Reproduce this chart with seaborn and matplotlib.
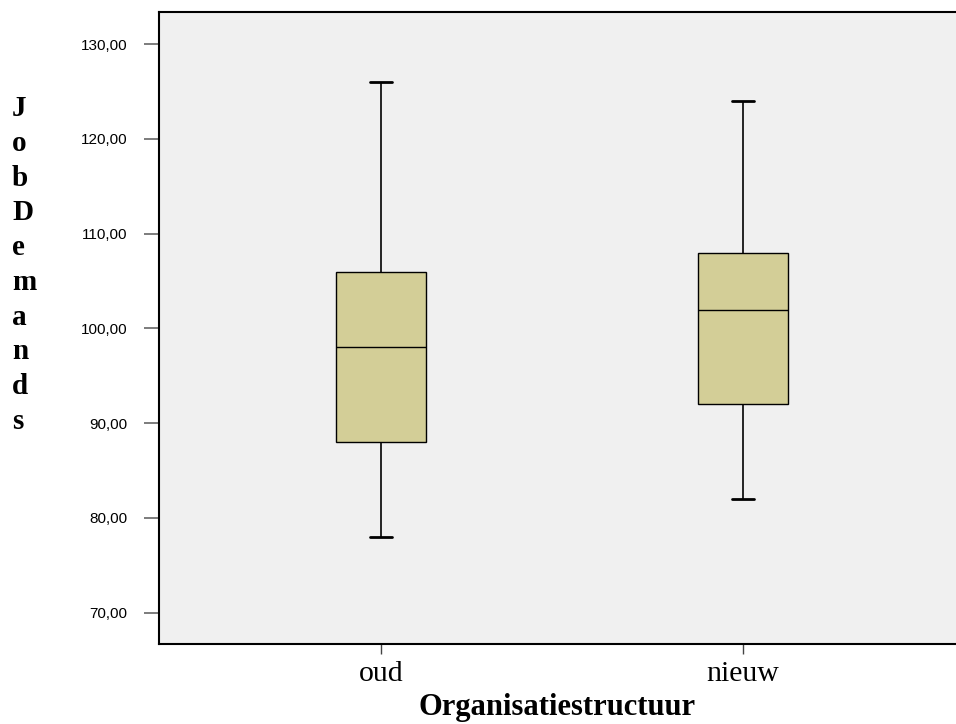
#!/usr/bin/env python3
import pandas as pd
import matplotlib
matplotlib.use("Agg")
import matplotlib.pyplot as plt
import seaborn as sns
import numpy as np

# five-number summaries (min, Q1, median, Q3, max)
groups = ["oud", "nieuw"]
oud_values = [78, 88, 98, 106, 126]
nieuw_values = [82, 92, 102, 108, 124]
y_ticks = [70, 80, 90, 100, 110, 120, 130]

df = pd.DataFrame({
    "Organisatiestructuur": ["oud"] * len(oud_values) + ["nieuw"] * len(nieuw_values),
    "JobDemands": oud_values + nieuw_values,
})

sns.set_style("white")
plt.rcParams["font.family"] = ["Liberation Sans", "DejaVu Sans"]
plt.rcParams["text.color"] = "black"
plt.rcParams["xtick.color"] = "black"
plt.rcParams["ytick.color"] = "black"

fig = plt.figure(figsize=(9.56, 7.24), dpi=100)
ax = fig.add_axes([159 / 956, 80 / 724, (956 - 159) / 956, 632 / 724])
ax.set_facecolor("#F0F0F0")

sns.boxplot(
    data=df, x="Organisatiestructuur", y="JobDemands", order=groups,
    whis=(0, 100), width=0.25, color="#D3CE97", linecolor="black",
    linewidth=1.0, saturation=1, ax=ax,
    whiskerprops={"linewidth": 1.2}, capprops={"linewidth": 2.0},
    capwidths=0.062,
)

ax.set_ylim(66.7, 133.4)
ax.set_xlim(-0.613, 1.588)
ax.set_yticks(y_ticks)
ax.set_yticklabels([f"{v:.2f}".replace(".", ",") for v in y_ticks], fontsize=11)
ax.set_xticks([0, 1])
ax.set_xticklabels(groups, fontsize=21.5, family="Liberation Serif")

ax.tick_params(axis="y", length=10.5, width=1.2, color="#666666", labelcolor="black",
               pad=12, left=True)
ax.tick_params(axis="x", length=7.5, width=1.0, color="#444444", labelcolor="black",
               pad=5, bottom=True)

for side in ["left", "bottom", "top"]:
    ax.spines[side].set_visible(True)
    ax.spines[side].set_color("black")
    ax.spines[side].set_linewidth(1.5)
ax.spines["right"].set_visible(False)

ax.set_ylabel("")
ax.set_xlabel("Organisatiestructuur", fontsize=22, fontweight="bold",
              family="Liberation Serif", labelpad=4, color="black")

fig.text(12 / 956, 1 - 95 / 724, "\n".join("JobDemands"), ha="left", va="top",
         fontsize=21, fontweight="bold", family="Liberation Serif", color="black",
         linespacing=1.37, multialignment="left")

fig.savefig("out.png", dpi=100)
